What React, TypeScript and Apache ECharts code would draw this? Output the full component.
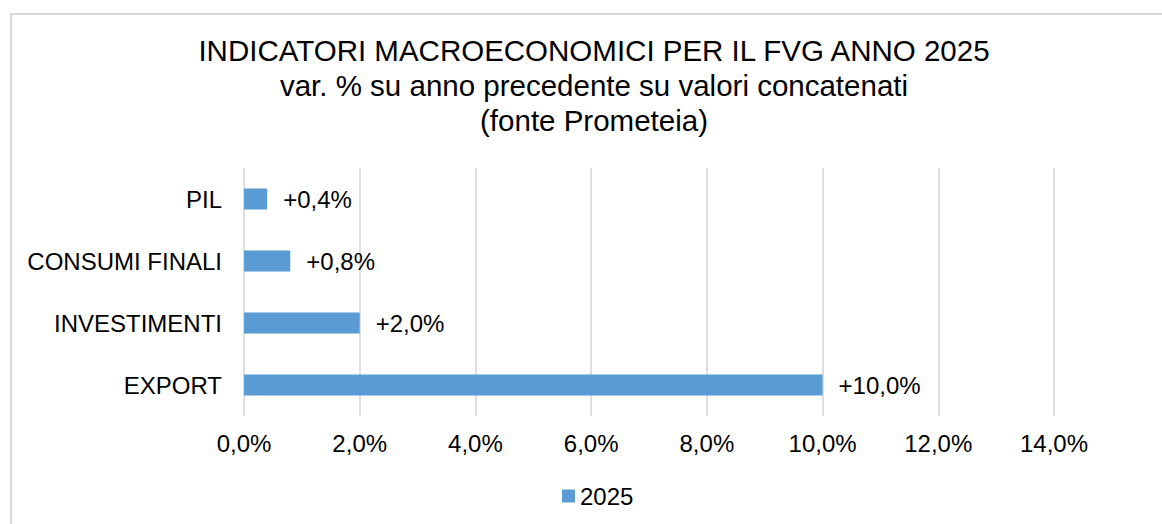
import React, { useEffect, useRef } from "react";
import * as echarts from "echarts";

const categories = ["PIL", "CONSUMI FINALI", "INVESTIMENTI", "EXPORT"];
const values2025 = [0.4, 0.8, 2.0, 10.0];
const seriesName = "2025";
const titleLines = [
  "INDICATORI MACROECONOMICI PER IL FVG ANNO 2025",
  "var. % su anno precedente su valori concatenati",
  "(fonte Prometeia)",
];

const FONT = "'Liberation Sans', Arial, sans-serif";
const fmt = (v: number) => v.toFixed(1).replace(".", ",") + "%";

export default function App() {
  const ref = useRef<HTMLDivElement>(null);
  useEffect(() => {
    if (!ref.current) return;
    const chart = echarts.init(ref.current, null, { renderer: "svg" });
    chart.setOption({
      animation: false,
      backgroundColor: "#ffffff",
      textStyle: { fontFamily: FONT },
      title: {
        text: titleLines.join("\n"),
        left: 594,
        top: 33,
        padding: 0,
        textAlign: "center",
        textStyle: {
          fontFamily: FONT,
          fontSize: 29.5,
          fontWeight: "normal",
          color: "#000000",
          lineHeight: 35,
        },
      },
      graphic: [
        {
          type: "rect",
          shape: { x: 11, y: 14, width: 1200, height: 600 },
          style: { fill: "none", stroke: "#d9d9d9", lineWidth: 2 },
          silent: true,
          z: -1,
        },
      ],
      legend: {
        data: [seriesName],
        left: 562,
        top: 484,
        padding: 0,
        itemWidth: 13,
        itemHeight: 13,
        icon: "rect",
        textStyle: { fontFamily: FONT, fontSize: 24, color: "#000000" },
      },
      grid: { left: 244, right: 108, top: 168, bottom: 108, containLabel: false },
      xAxis: {
        type: "value",
        min: 0,
        max: 14,
        interval: 2,
        axisLine: { show: false },
        axisTick: { show: false },
        splitLine: { show: true, lineStyle: { color: "#dedede", width: 2 } },
        axisLabel: {
          margin: 15,
          fontFamily: FONT,
          fontSize: 24,
          color: "#000000",
          formatter: (v: number) => fmt(v),
        },
      },
      yAxis: {
        type: "category",
        data: categories,
        inverse: true,
        axisLine: { show: false },
        axisTick: { show: false },
        axisLabel: { margin: 22, fontFamily: FONT, fontSize: 24, color: "#000000" },
      },
      series: [
        {
          name: seriesName,
          type: "bar",
          data: values2025,
          barWidth: 21,
          itemStyle: { color: "#5b9bd5" },
          label: {
            show: true,
            position: "right",
            distance: 16,
            fontFamily: FONT,
            fontSize: 24,
            color: "#000000",
            formatter: (p: any) => "+" + fmt(p.value),
          },
        },
      ],
    });
    return () => chart.dispose();
  }, []);
  return (
    <div
      ref={ref}
      style={{ position: "fixed", left: 0, top: 0, width: 1162, height: 524 }}
    />
  );
}
